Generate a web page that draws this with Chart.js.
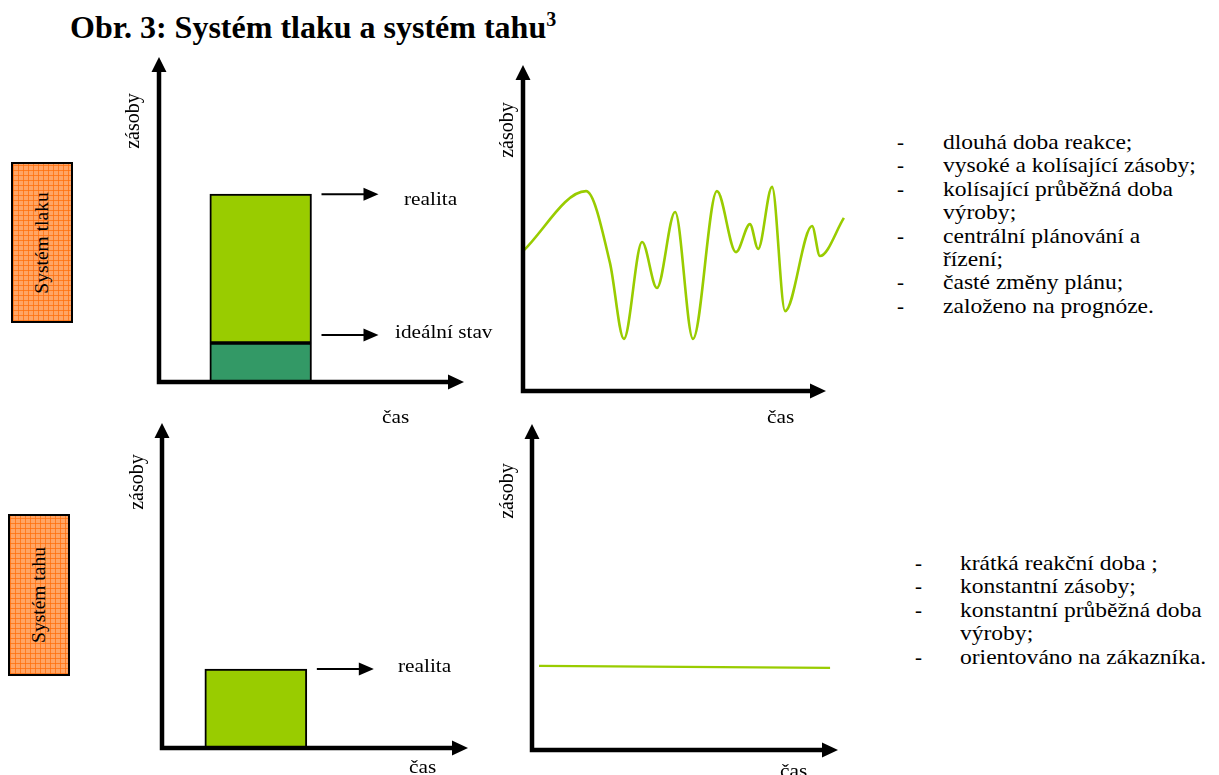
<!DOCTYPE html>
<html>
<head>
<meta charset="utf-8">
<script src="https://cdn.jsdelivr.net/npm/chart.js@4.4.1/dist/chart.umd.min.js"></script>
<style>
  body { margin: 0; background: #fff; width: 1219px; height: 775px; overflow: hidden; position: relative;
         font-family: "Liberation Serif", "DejaVu Serif", serif; color: #000; }
  canvas { position: absolute; }
  .t, .list, .sys span { font-family: "Liberation Serif", "DejaVu Serif", serif; }
  .t { position: absolute; white-space: nowrap; line-height: 1; }
  .lbl { font-size: 19px; transform: translateY(-50%) scaleX(1.12); transform-origin: left center; }
  .rot { font-size: 20px; transform: translate(-50%, -50%) rotate(-90deg); }
  .title { left: 70px; top: 11px; font-size: 32px; font-weight: bold; line-height: 32px; }
  .title sup { font-size: 20px; vertical-align: 0; position: relative; top: -12px; }
  .sys { position: absolute; box-sizing: border-box; border: 2px solid #000;
         background-color: #ffa565;
         background-image: repeating-linear-gradient(0deg, rgba(255,110,10,.75) 0 1px, transparent 1px 5px),
                           repeating-linear-gradient(90deg, rgba(255,110,10,.75) 0 1px, transparent 1px 5px); }
  .sys span { position: absolute; left: 50%; top: 50%; font-size: 19.5px; white-space: nowrap;
              transform: translate(-50%, -50%) rotate(-90deg); }
  .list { position: absolute; font-size: 21px; }
  .li { position: relative; height: 23.4px; line-height: 23.4px; white-space: nowrap; }
  .li .d { position: absolute; left: 0; }
  .li .x { position: absolute; transform: scaleX(1.12); transform-origin: left center; }
</style>
</head>
<body>
<div class="t title">Obr. 3: Systém tlaku a systém tahu<sup>3</sup></div>

<div class="sys" style="left:11px;top:162px;width:62px;height:161px"><span>Systém tlaku</span></div>
<div class="sys" style="left:8px;top:514px;width:62px;height:162px"><span>Systém tahu</span></div>

<canvas id="c1"></canvas>
<canvas id="c2"></canvas>
<canvas id="c3"></canvas>
<canvas id="c4"></canvas>

<div class="t rot" style="left:132px;top:121px">zásoby</div>
<div class="t rot" style="left:506px;top:130px">zásoby</div>
<div class="t rot" style="left:136px;top:482px">zásoby</div>
<div class="t rot" style="left:506px;top:491px">zásoby</div>

<div class="t lbl" style="left:404px;top:198px">realita</div>
<div class="t lbl" style="left:395px;top:331px">ideální stav</div>
<div class="t lbl" style="left:398px;top:665px">realita</div>

<div class="t lbl" style="left:382px;top:416px">čas</div>
<div class="t lbl" style="left:767px;top:416px">čas</div>
<div class="t lbl" style="left:409px;top:766px">čas</div>
<div class="t lbl" style="left:780px;top:770px">čas</div>

<div class="list" id="pushList" style="left:897px;top:131px"></div>
<div class="list" id="pullList" style="left:915px;top:552px"></div>

<script>
// systém tlaku – sloupec (úroveň zásob)
const pushBarTime = [1.0];
const pushIdealStock = [1.2];
const pushRealStock = [5.78];

// systém tlaku – kolísající zásoby v čase
const pushTime  = [0, 2.08, 2.87, 3.33, 3.93, 4.42, 5.02, 5.61, 6.40, 7.03, 7.49, 7.76, 8.22, 8.65, 9.54, 9.80, 10.59];
const pushStock = [4.29, 6.13, 3.93, 1.60, 4.57, 3.16, 5.49, 1.60, 6.13, 4.26, 5.12, 4.36, 6.26, 2.45, 5.06, 4.14, 5.31];

// systém tahu
const pullBarTime = [0.92];
const pullRealStock = [2.43];
const pullTime  = [0.23, 9.74];
const pullStock = [2.58, 2.52];

const pushNotes = [
  ['-', 'dlouhá doba reakce;'],
  ['-', 'vysoké a kolísající zásoby;'],
  ['-', 'kolísající průběžná doba'],
  ['', 'výroby;'],
  ['-', 'centrální plánování a'],
  ['', 'řízení;'],
  ['-', 'časté změny plánu;'],
  ['-', 'založeno na prognóze.']
];
const pullNotes = [
  ['-', 'krátká reakční doba ;'],
  ['-', 'konstantní zásoby;'],
  ['-', 'konstantní průběžná doba'],
  ['', 'výroby;'],
  ['-', 'orientováno na zákazníka.']
];

const GREEN = '#99cc00';
const DARK_GREEN = '#339966';

function fillList(id, notes, indent) {
  const el = document.getElementById(id);
  notes.forEach(([d, txt]) => {
    const li = document.createElement('div');
    li.className = 'li';
    li.innerHTML = '<span class="d">' + d + '</span><span class="x" style="left:' + indent + 'px">' + txt + '</span>';
    el.appendChild(li);
  });
}
fillList('pushList', pushNotes, 46);
fillList('pullList', pullNotes, 45);

// osy se šipkami
const axisArrows = {
  id: 'axisArrows',
  afterDatasetsDraw(chart) {
    const { ctx, chartArea: a } = chart;
    ctx.save();
    ctx.strokeStyle = '#000';
    ctx.fillStyle = '#000';
    ctx.lineWidth = 4.5;
    ctx.beginPath();
    ctx.moveTo(a.left, a.bottom + 2.2);
    ctx.lineTo(a.left, a.top + 12);
    ctx.moveTo(a.left - 2.2, a.bottom);
    ctx.lineTo(a.right - 12, a.bottom);
    ctx.stroke();
    ctx.beginPath();
    ctx.moveTo(a.left, a.top);
    ctx.lineTo(a.left - 7.5, a.top + 15);
    ctx.lineTo(a.left + 7.5, a.top + 15);
    ctx.closePath();
    ctx.moveTo(a.right, a.bottom);
    ctx.lineTo(a.right - 16, a.bottom - 7.5);
    ctx.lineTo(a.right - 16, a.bottom + 7.5);
    ctx.closePath();
    ctx.fill();
    ctx.restore();
  }
};

// šipky od sloupce k popiskům (shift = posun šipky nad úroveň v px)
const pointers = {
  id: 'pointers',
  afterDatasetsDraw(chart, args, opts) {
    if (!opts.levels) return;
    const bar = chart.getDatasetMeta(0).data[0];
    const y = chart.scales.y;
    const x0 = bar.x + bar.width / 2 + 10;
    const { ctx } = chart;
    ctx.save();
    ctx.strokeStyle = '#000';
    ctx.fillStyle = '#000';
    ctx.lineWidth = 2;
    opts.levels.forEach((v, i) => {
      const py = y.getPixelForValue(v) - ((opts.shift && opts.shift[i]) || 0);
      ctx.beginPath();
      ctx.moveTo(x0, py);
      ctx.lineTo(x0 + 44, py);
      ctx.stroke();
      ctx.beginPath();
      ctx.moveTo(x0 + 57, py);
      ctx.lineTo(x0 + 42, py - 6.5);
      ctx.lineTo(x0 + 42, py + 6.5);
      ctx.closePath();
      ctx.fill();
    });
    ctx.restore();
  }
};

function place(id, left, top, width, height) {
  const c = document.getElementById(id);
  c.width = width;
  c.height = height;
  c.style.left = left + 'px';
  c.style.top = top + 'px';
  return c;
}

function baseOptions(pad, xMax, yMax) {
  return {
    responsive: false,
    animation: false,
    events: [],
    layout: { padding: pad },
    plugins: { legend: { display: false }, tooltip: { enabled: false } },
    scales: {
      x: { type: 'linear', min: 0, max: xMax, offset: false, display: false, ticks: { stepSize: 1 } },
      y: { type: 'linear', min: 0, max: yMax, display: false }
    }
  };
}

// 1 – tlak, sloupec
const opt1 = baseOptions({ left: 19, top: 12, right: 16, bottom: 13 }, 3, 10);
opt1.scales.x.stacked = true;
opt1.scales.y.stacked = true;
opt1.plugins.pointers = { levels: [pushRealStock[0], pushIdealStock[0]], shift: [0, 8] };
new Chart(place('c1', 140, 45, 340, 350), {
  type: 'bar',
  data: {
    datasets: [
      {
        label: 'ideální stav',
        data: pushBarTime.map((t, i) => ({ x: t, y: pushIdealStock[i] })),
        backgroundColor: DARK_GREEN, borderColor: '#000', borderWidth: 2, borderSkipped: false,
        barPercentage: 1, categoryPercentage: 1
      },
      {
        label: 'realita',
        data: pushBarTime.map((t, i) => ({ x: t, y: pushRealStock[i] - pushIdealStock[i] })),
        backgroundColor: GREEN, borderColor: '#000', borderWidth: 2, borderSkipped: false,
        barPercentage: 1, categoryPercentage: 1
      }
    ]
  },
  options: opt1,
  plugins: [axisArrows, pointers]
});

// 2 – tlak, průběh zásob
const opt2 = baseOptions({ left: 23, top: 15, right: 34, bottom: 14 }, 10, 10);
opt2.elements = { line: { capBezierPoints: false } };
new Chart(place('c2', 500, 50, 360, 355), {
  type: 'line',
  data: {
    datasets: [{
      label: 'zásoby',
      data: pushTime.map((t, i) => ({ x: t, y: pushStock[i] })),
      borderColor: GREEN, borderWidth: 2.6, pointRadius: 0,
      cubicInterpolationMode: 'monotone', clip: false, fill: false
    }]
  },
  options: opt2,
  plugins: [axisArrows]
});

// 3 – tah, sloupec
const opt3 = baseOptions({ left: 22, top: 13, right: 17, bottom: 17 }, 3, 10);
opt3.scales.x.stacked = true;
opt3.scales.y.stacked = true;
opt3.plugins.pointers = { levels: [pullRealStock[0]] };
new Chart(place('c3', 140, 410, 345, 355), {
  type: 'bar',
  data: {
    datasets: [{
      label: 'realita',
      data: pullBarTime.map((t, i) => ({ x: t, y: pullRealStock[i] })),
      backgroundColor: GREEN, borderColor: '#000', borderWidth: 2, borderSkipped: false,
      barPercentage: 1, categoryPercentage: 1
    }]
  },
  options: opt3,
  plugins: [axisArrows, pointers]
});

// 4 – tah, konstantní zásoby
new Chart(place('c4', 510, 410, 350, 355), {
  type: 'line',
  data: {
    datasets: [{
      label: 'zásoby',
      data: pullTime.map((t, i) => ({ x: t, y: pullStock[i] })),
      borderColor: GREEN, borderWidth: 2.2, pointRadius: 0, clip: false, fill: false
    }]
  },
  options: baseOptions({ left: 22, top: 14, right: 22, bottom: 15 }, 10, 10),
  plugins: [axisArrows]
});
</script>
</body>
</html>
